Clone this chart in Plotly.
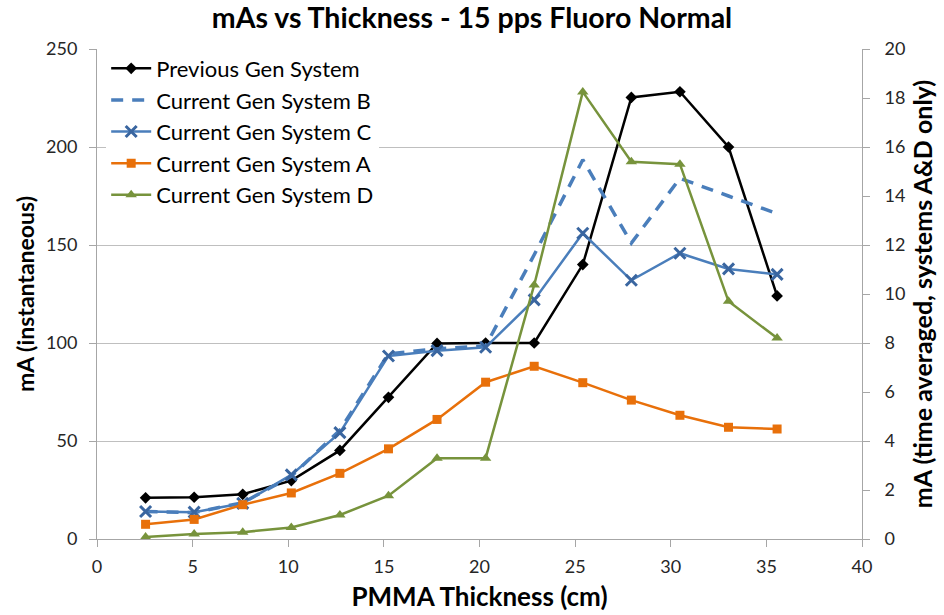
import plotly.graph_objects as go

thickness_cm = [2.54, 5.08, 7.62, 10.16, 12.7, 15.24, 17.78, 20.32, 22.86, 25.4, 27.94, 30.48, 33.02, 35.56]

previous_gen = [21, 21.3, 22.8, 29.8, 45.2, 72.3, 99.8, 100, 100, 140, 225.3, 228.2, 200, 124]
current_b = [14, 13.5, 18.5, 32, 55.5, 94.5, 97, 98.5, 145, 193.5, 151, 184, 175, 166]
current_c = [14, 13.7, 18.2, 32.7, 54.3, 93.4, 96.1, 97.8, 122, 156, 132, 145.8, 137.8, 135]
current_a = [0.6, 0.8, 1.4, 1.88, 2.68, 3.68, 4.88, 6.4, 7.05, 6.38, 5.67, 5.05, 4.56, 4.49]
current_d = [0.08, 0.2, 0.28, 0.47, 0.98, 1.77, 3.3, 3.3, 10.37, 18.25, 15.4, 15.3, 9.7, 8.2]

x_ticks = [0, 5, 10, 15, 20, 25, 30, 35, 40]

FONT = "Lato, 'Open Sans', sans-serif"
BLUE = "#4A7EBB"
BLUE_DARK = "#3A66A0"
ORANGE = "#E8700A"
GREEN = "#77933C"
AXIS_GRAY = "#a6a6a6"

fig = go.Figure()
fig.add_trace(go.Scatter(x=thickness_cm, y=previous_gen, name="Previous Gen System", mode="lines+markers",
                         line=dict(color="black", width=2.5),
                         marker=dict(symbol="diamond", size=9, color="black")))
fig.add_trace(go.Scatter(x=thickness_cm, y=current_b, name="Current Gen System B", mode="lines",
                         line=dict(color=BLUE, width=3.5, dash="12px,9px")))
fig.add_trace(go.Scatter(x=thickness_cm, y=current_c, name="Current Gen System C", mode="lines+markers",
                         line=dict(color=BLUE, width=2.5),
                         marker=dict(symbol="x-thin", size=11, line=dict(color=BLUE_DARK, width=3))))
fig.add_trace(go.Scatter(x=thickness_cm, y=current_a, name="Current Gen System A", mode="lines+markers",
                         yaxis="y2", line=dict(color=ORANGE, width=2.5),
                         marker=dict(symbol="square", size=9, color=ORANGE)))
fig.add_trace(go.Scatter(x=thickness_cm, y=current_d, name="Current Gen System D", mode="lines+markers",
                         yaxis="y2", line=dict(color=GREEN, width=2.5),
                         marker=dict(symbol="triangle-up", size=10, color=GREEN)))

axis_font = dict(family=FONT, size=18, color="#262626")

fig.update_layout(
    width=944, height=615,
    margin=dict(l=97, r=82, t=49, b=76, autoexpand=False),
    paper_bgcolor="white", plot_bgcolor="white",
    font=dict(family=FONT, color="black"),
    title=dict(text="<b>mAs vs Thickness - 15 pps Fluoro Normal</b>", x=0.5, xanchor="center",
               y=0.97, yanchor="middle", font=dict(family=FONT, size=28.5, color="black")),
    xaxis=dict(range=[0, 40], tickvals=x_ticks, ticks="outside", ticklen=7, tickcolor=AXIS_GRAY,
               showline=True, linecolor=AXIS_GRAY, linewidth=1, showgrid=False, zeroline=False,
               tickfont=axis_font, ticklabelstandoff=4, automargin=False,
               title=dict(text="<b>PMMA Thickness (cm)</b>", font=dict(family=FONT, size=26, color="black"),
                          standoff=12)),
    yaxis=dict(range=[0, 250], dtick=50, ticks="outside", ticklen=7, tickcolor=AXIS_GRAY,
               showline=True, linecolor=AXIS_GRAY, linewidth=1, showgrid=True, gridcolor="#bfbfbf",
               gridwidth=1, zeroline=False, tickfont=axis_font, ticklabelstandoff=8, automargin=False,
               title=dict(text="<b>mA (instantaneous)</b>", font=dict(family=FONT, size=23, color="black"),
                          standoff=5)),
    yaxis2=dict(range=[0, 20], dtick=2, overlaying="y", side="right", ticks="outside", ticklen=7,
                tickcolor=AXIS_GRAY, showline=True, linecolor=AXIS_GRAY, linewidth=1, showgrid=False,
                zeroline=False, tickfont=axis_font, ticklabelstandoff=11, automargin=False,
                title=dict(text="<b>mA (time averaged, systems A&D only)</b>",
                           font=dict(family=FONT, size=25, color="black"), standoff=10)),
    legend=dict(x=0.012, y=1.003, xanchor="left", yanchor="top", bgcolor="white", borderwidth=0,
                font=dict(family=FONT, size=22, color="black"), itemwidth=40, tracegroupgap=0),
    showlegend=True,
)

fig.write_html("out.html")
